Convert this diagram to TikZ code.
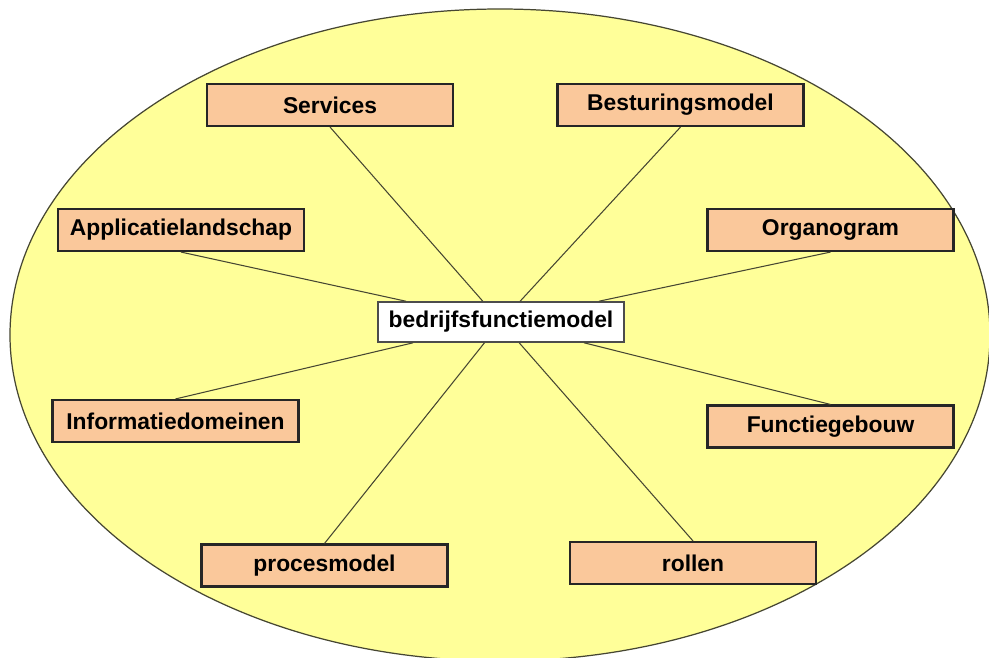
\documentclass[tikz,border=0pt]{standalone}
\usepackage{fontspec}
\setmainfont{Liberation Sans}
\definecolor{ovalfill}{RGB}{255,255,153}
\definecolor{boxfill}{RGB}{250,200,155}
\definecolor{edgeline}{RGB}{70,70,50}
\tikzset{
  oval/.style={draw=edgeline, line width=0.7pt, fill=ovalfill},
  topic/.style={draw=black!85, line width=1.2pt, fill=boxfill,
    minimum width=246*0.02cm, minimum height=42*0.02cm, inner sep=0pt,
    font=\fontsize{13}{15}\selectfont\bfseries},
  core/.style={topic, fill=white, line width=0.9pt, draw=black!70,
    minimum height=40*0.02cm},
  link/.style={draw=edgeline, line width=0.6pt}
}
\begin{document}
\begin{tikzpicture}[x=0.02cm, y=-0.02cm]
  \useasboundingbox (0,0) rectangle (989,657);
  \fill[white] (0,0) rectangle (989,657);
  % background oval
  \path[oval] (500,335) ellipse [x radius=490, y radius=326];

  % central model and surrounding topics
  \node[core]  (bfm)   at (501,322)     {bedrijfsfunctiemodel};
  \node[topic] (serv)  at (330,105)     {Services};
  \node[topic] (best)  at (680.5,105)   {Besturingsmodel};
  \node[topic] (appl)  at (181,230)     {Applicatielandschap};
  \node[topic] (orga)  at (830.5,230)   {Organogram};
  \node[topic] (info)  at (175.5,421)   {Informatiedomeinen};
  \node[topic] (func)  at (830.5,426.5) {Functiegebouw};
  \node[topic] (proc)  at (324.5,565.5) {procesmodel};
  \node[topic] (roll)  at (693,563)     {rollen};

  % spokes from each topic to the central model
  \draw[link] (serv.south) -- (bfm);
  \draw[link] (best.south) -- (bfm);
  \draw[link] (appl.south) -- (bfm);
  \draw[link] (orga.south) -- (bfm);
  \draw[link] (info.north) -- (bfm);
  \draw[link] (func.north) -- (bfm);
  \draw[link] (proc.north) -- (bfm);
  \draw[link] (roll.north) -- (bfm);
\end{tikzpicture}
\end{document}
